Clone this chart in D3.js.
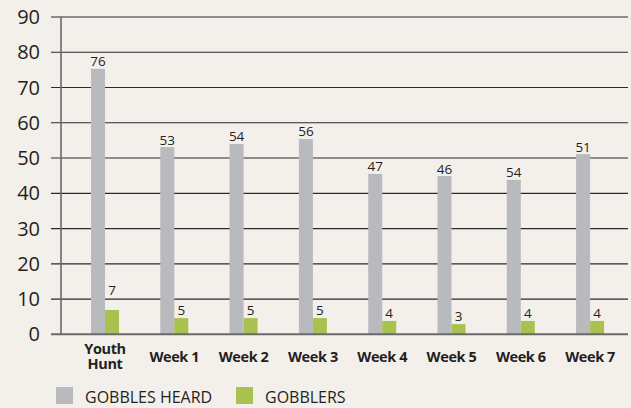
<!DOCTYPE html>
<html>
<head>
<meta charset="utf-8">
<script src="https://cdn.jsdelivr.net/npm/d3@7"></script>
<style>
  body { margin: 0; background: #f3f0eb; }
  svg { display: block; font-family: "Open Sans", sans-serif; }
</style>
</head>
<body>
<svg id="chart" width="631" height="408"></svg>
<script>
// data
const categories = ["Youth Hunt", "Week 1", "Week 2", "Week 3", "Week 4", "Week 5", "Week 6", "Week 7"];
const gobblesHeard = [75.3, 53.1, 54, 55.4, 45.5, 44.9, 43.8, 51.1];   // bar heights as drawn
const gobblesHeardLabels = ["76", "53", "54", "56", "47", "46", "54", "51"];
const gobblers = [6.9, 4.6, 4.6, 4.6, 3.8, 2.9, 3.8, 3.8];
const gobblersLabels = ["7", "5", "5", "5", "4", "3", "4", "4"];
const yTicks = [0, 10, 20, 30, 40, 50, 60, 70, 80, 90];
const seriesNames = ["GOBBLES HEARD", "GOBBLERS"];
const colors = ["#b9babe", "#a9c24f"];

const svg = d3.select("#chart");

const x = d3.scaleBand()
    .domain(categories)
    .range([70.35, 624.75])
    .paddingInner(0.596)
    .paddingOuter(0.298);

const xSub = d3.scaleBand()
    .domain([0, 1])
    .range([0, x.bandwidth()]);

const y = d3.scaleLinear()
    .domain([0, 90])
    .range([334.3, 17]);

// gridlines + y labels
svg.append("g")
    .selectAll("line")
    .data(yTicks.filter(d => d > 0))
    .join("line")
    .attr("x1", 51).attr("x2", 628)
    .attr("y1", d => y(d)).attr("y2", d => y(d))
    .attr("stroke", "#2b2a2a")
    .attr("stroke-width", 1.2);

svg.append("g")
    .selectAll("text")
    .data(yTicks)
    .join("text")
    .attr("x", 40)
    .attr("y", d => y(d) + 7)
    .attr("text-anchor", "end")
    .attr("font-size", 20)
    .attr("fill", "#231f20")
    .text(d => d);

// y axis line
svg.append("line")
    .attr("x1", 61).attr("x2", 61)
    .attr("y1", y(90)).attr("y2", y(0))
    .attr("stroke", "#6b6969")
    .attr("stroke-width", 1.6);

// bars
const groups = svg.append("g")
    .selectAll("g")
    .data(categories)
    .join("g")
    .attr("transform", d => `translate(${x(d)},0)`);

groups.append("rect")
    .attr("x", xSub(0))
    .attr("width", xSub.bandwidth())
    .attr("y", (d, i) => y(gobblesHeard[i]))
    .attr("height", (d, i) => y(0) - y(gobblesHeard[i]))
    .attr("fill", colors[0]);

groups.append("rect")
    .attr("x", xSub(1))
    .attr("width", xSub.bandwidth())
    .attr("y", (d, i) => y(gobblers[i]))
    .attr("height", (d, i) => y(0) - y(gobblers[i]))
    .attr("fill", colors[1]);

groups.append("text")
    .attr("x", xSub(0) + xSub.bandwidth() / 2)
    .attr("y", (d, i) => y(gobblesHeard[i]) - 2.5)
    .attr("text-anchor", "middle")
    .attr("font-size", 13.5)
    .attr("fill", "#231f20")
    .text((d, i) => gobblesHeardLabels[i]);

groups.append("text")
    .attr("x", xSub(1) + xSub.bandwidth() / 2)
    .attr("y", (d, i) => y(gobblers[i]) - (i == 0 ? 15 : 3))
    .attr("text-anchor", "middle")
    .attr("font-size", 13.5)
    .attr("fill", "#231f20")
    .text((d, i) => gobblersLabels[i]);

// bottom axis line
svg.append("line")
    .attr("x1", 51).attr("x2", 628)
    .attr("y1", y(0)).attr("y2", y(0))
    .attr("stroke", "#6b6969")
    .attr("stroke-width", 2);

// x labels (Youth Hunt on two lines)
const xl = svg.append("g")
    .selectAll("g")
    .data(categories)
    .join("g")
    .attr("transform", d => `translate(${x(d) + x.bandwidth() / 2},0)`);

xl.each(function(d) {
    const g = d3.select(this);
    const lines = d == "Youth Hunt" ? [["Youth", 353.5], ["Hunt", 369]] : [[d, 362]];
    lines.forEach(l => {
        g.append("text")
            .attr("y", l[1])
            .attr("text-anchor", "middle")
            .attr("font-size", 14.5)
            .attr("font-weight", "bold")
            .attr("letter-spacing", -0.4)
            .attr("fill", "#231f20")
            .text(l[0]);
    });
});

// legend
const legendX = [56, 236];
const legend = svg.append("g")
    .selectAll("g")
    .data(seriesNames)
    .join("g")
    .attr("transform", (d, i) => `translate(${legendX[i]},387)`);

legend.append("rect")
    .attr("width", 17).attr("height", 17)
    .attr("fill", (d, i) => colors[i]);

legend.append("text")
    .attr("x", 29)
    .attr("y", 15.5)
    .attr("font-size", 16)
    .attr("fill", "#231f20")
    .text(d => d);
</script>
</body>
</html>
